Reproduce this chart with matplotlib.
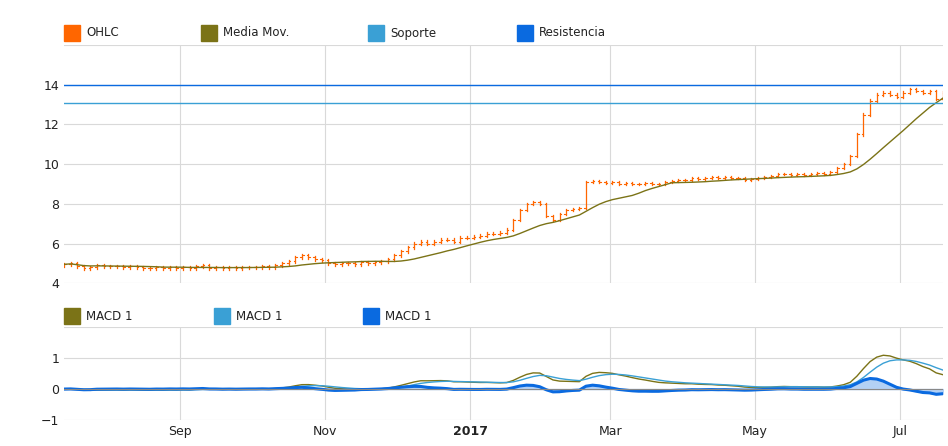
import matplotlib
matplotlib.use("Agg")
import matplotlib.pyplot as plt
import matplotlib.dates as mdates
from matplotlib.patches import Rectangle
import numpy as np
import pandas as pd

close = [4.95,5.0,4.85,4.75,4.8,4.9,4.85,
         4.85,4.85,4.8,4.85,4.8,4.75,4.75,4.8,4.75,4.8,4.75,
         4.8,4.75,4.85,4.9,4.75,4.8,4.75,4.8,4.75,4.8,4.8,
         4.8,4.85,4.8,4.9,5.0,5.1,5.3,5.4,5.3,5.2,
         5.15,5.0,4.95,5.0,5.0,4.95,5.05,5.0,5.05,5.1,5.2,
         5.4,5.6,5.8,6.0,6.1,6.0,6.1,6.2,6.2,6.1,6.3,
         6.3,6.35,6.4,6.5,6.5,6.55,6.7,7.2,7.7,8.0,8.1,
         8.0,7.4,7.2,7.5,7.7,7.75,7.8,9.1,9.15,9.1,
         9.05,9.1,9.0,9.05,9.0,9.0,9.05,9.0,9.0,9.1,9.15,9.2,
         9.2,9.3,9.25,9.3,9.35,9.3,9.35,9.3,9.3,9.2,
         9.25,9.3,9.35,9.4,9.5,9.5,9.45,9.5,9.45,9.5,9.55,9.5,
         9.6,9.8,10.0,10.4,11.5,12.5,13.2,13.5,13.6,13.5,13.4,
         13.6,13.8,13.7,13.6,13.7,13.3,13.6]
opens = [4.9] + close[:-1]
soporte = 13.1
resistencia = 14.0
start, end = "2016-07-14", "2017-07-19"
month_ticks = ["2016-09-01", "2016-11-01", "2017-01-01", "2017-03-01", "2017-05-01", "2017-07-01"]
month_labels = ["Sep", "Nov", "2017", "Mar", "May", "Jul"]

C_OHLC = "#ff6600"; C_MA = "#7b7317"; C_SUP = "#3aa0d5"; C_RES = "#0a6ae0"

n = len(close)
dates = pd.date_range(start, end, periods=n)
s = pd.Series(close, index=dates)
ma = s.rolling(14, min_periods=1).mean()
macd = s.ewm(span=6, adjust=False).mean() - s.ewm(span=13, adjust=False).mean()
signal = macd.ewm(span=5, adjust=False).mean()
hist = macd - signal

fig = plt.figure(figsize=(9.48, 4.46), dpi=100)
ax = fig.add_axes([0.0675, 0.365, 0.927, 0.534])
ax2 = fig.add_axes([0.0675, 0.058, 0.927, 0.209])

x = mdates.date2num(dates)
w = 0.7
for xi, o, c in zip(x, opens, close):
    hi, lo = max(o, c) + 0.06, min(o, c) - 0.06
    ax.plot([xi, xi], [lo, hi], color=C_OHLC, lw=0.9)
    ax.plot([xi - w, xi], [o, o], color=C_OHLC, lw=0.8)
    ax.plot([xi, xi + w], [c, c], color=C_OHLC, lw=0.8)
ax.plot(dates, ma, color=C_MA, lw=1)
ax.axhline(soporte, color=C_SUP, lw=1)
ax.axhline(resistencia, color=C_RES, lw=1)
ax.set_ylim(4, 16)
ax.set_yticks([4, 6, 8, 10, 12, 14])

ax2.plot(dates, macd, color=C_MA, lw=1)
ax2.plot(dates, signal, color=C_SUP, lw=1)
ax2.fill_between(dates, 0, hist, color="#b3d1f5")
ax2.plot(dates, hist, color=C_RES, lw=2.2)
ax2.axhline(0, color="#888888", lw=0.8)
ax2.set_ylim(-1, 2)
ax2.set_yticks([-1, 0, 1])

ticks = mdates.date2num(pd.to_datetime(month_ticks))
for a in (ax, ax2):
    a.set_xlim(mdates.date2num(pd.Timestamp(start)), mdates.date2num(pd.Timestamp(end)))
    a.set_xticks(ticks)
    a.grid(True, color="#d9d9d9", lw=0.8)
    for sp in a.spines.values():
        sp.set_visible(False)
    a.tick_params(length=0, labelsize=9, colors="#222222")
    a.axhline(a.get_ylim()[1], color="#d9d9d9", lw=0.8)
ax.set_xticklabels([])
ax2.set_xticklabels(month_labels)
for lbl in ax2.get_xticklabels():
    if lbl.get_text() == "2017":
        lbl.set_fontweight("bold")

def legend(items, y):
    for xpx, col, txt in items:
        fig.add_artist(Rectangle((xpx / 948, (446 - y - 8) / 446), 16 / 948, 16 / 446,
                                 color=col, transform=fig.transFigure))
        fig.text((xpx + 22) / 948, (446 - y) / 446, txt, va="center", fontsize=8.5, color="#222222")

legend([(64, C_OHLC, "OHLC"), (201, C_MA, "Media Mov."), (368, C_SUP, "Soporte"), (517, C_RES, "Resistencia")], 33)
legend([(64, C_MA, "MACD 1"), (214, C_SUP, "MACD 1"), (363, C_RES, "MACD 1")], 316)

fig.savefig("out.png", dpi=100)
